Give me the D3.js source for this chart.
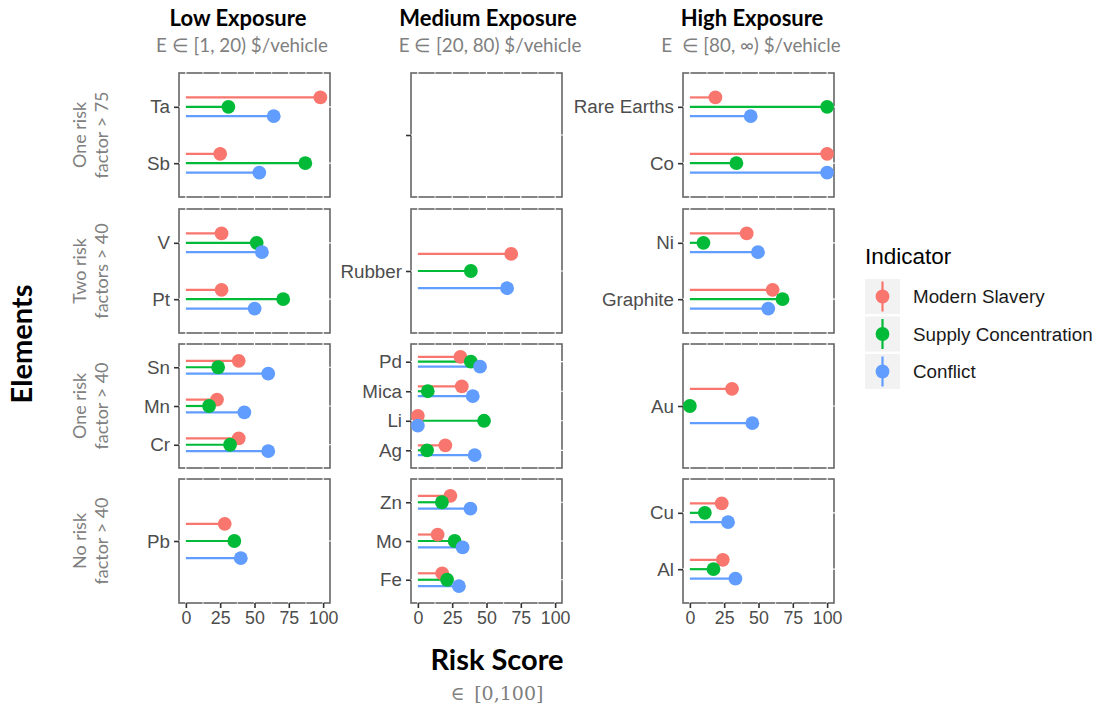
<!DOCTYPE html>
<html>
<head>
<meta charset="utf-8">
<script src="https://cdn.jsdelivr.net/npm/d3@7"></script>
<style>
  html, body { margin: 0; padding: 0; background: #fff; }
  svg { display: block; }
</style>
</head>
<body>
<svg id="chart" width="1098" height="705"></svg>
<script>
// Facet layout: exposure tiers across, risk-count groups down
const exposureTiers = ["Low Exposure", "Medium Exposure", "High Exposure"];
const exposureRanges = ["E \u2208 [1, 20) $/vehicle", "E \u2208 [20, 80) $/vehicle", "E\u2002\u2208 [80, \u221E) $/vehicle"];
const riskGroups = [
  ["One risk", "factor > 75"],
  ["Two risk", "factors > 40"],
  ["One risk", "factor > 40"],
  ["No risk", "factor > 40"]
];

// Elements with their exposure tier (column) and risk group (row)
const elements = ["Ta", "Sb", "V", "Pt", "Sn", "Mn", "Cr", "Pb",
                  "Rubber", "Pd", "Mica", "Li", "Ag", "Zn", "Mo", "Fe",
                  "Rare Earths", "Co", "Ni", "Graphite", "Au", "Cu", "Al"];
const elementTier = [0, 0, 0, 0, 0, 0, 0, 0,
                     1, 1, 1, 1, 1, 1, 1, 1,
                     2, 2, 2, 2, 2, 2, 2];
const elementGroup = [0, 0, 1, 1, 2, 2, 2, 3,
                      1, 2, 2, 2, 2, 3, 3, 3,
                      0, 0, 1, 1, 2, 3, 3];

// Risk scores per indicator, in the same order as `elements`
const indicators = ["Modern Slavery", "Supply Concentration", "Conflict"];
const modernSlavery       = [98, 25, 26, 26, 38.5, 22.7, 38.5, 28.3,
                             68, 31, 32, 0, 20, 23.7, 14.4, 17.7,
                             18.6, 100, 41.4, 60.3, 30.7, 23.2, 24];
const supplyConcentration = [31, 87, 51.6, 70.9, 23.5, 16.9, 32.2, 35.3,
                             38.6, 38.6, 7.2, 48.2, 6.7, 17.5, 26.8, 21.3,
                             100, 33.9, 9.9, 67.5, 0, 10.9, 17.2];
const conflict            = [64, 53.5, 55.4, 50.1, 60, 42.6, 60, 40,
                             65, 45.3, 40, 0, 41.4, 38.3, 32.6, 29.9,
                             44.3, 100, 49.6, 57.1, 45.5, 27.8, 33.2];
const seriesValues = [modernSlavery, supplyConcentration, conflict];
const colors = ["#F8766D", "#00BA38", "#619CFF"];

const xTicks = [0, 25, 50, 75, 100];
const xGrid = [0, 12.5, 25, 37.5, 50, 62.5, 75, 87.5, 100];

// Geometry
const colLeft = [179, 411, 683];
const panelW = 151;
const rowTop = [73, 209, 344, 479];
const panelH = 124;

const svg = d3.select("#chart");
const axisFont = "'Liberation Sans', Arial, Helvetica, sans-serif";
const labelFont = "Lato, 'Open Sans', sans-serif";

const color = d3.scaleOrdinal().domain(indicators).range(colors);

// Column headers
exposureTiers.forEach((t, c) => {
  svg.append("text")
    .attr("x", [238, 488, 752][c]).attr("y", 26)
    .attr("text-anchor", "middle")
    .style("font-family", labelFont)
    .style("font-weight", "bold")
    .style("font-size", "22px")
    .attr("fill", "#000")
    .text(t);
  svg.append("text")
    .attr("x", [242, 490, 751][c]).attr("y", 52)
    .attr("text-anchor", "middle")
    .style("font-family", labelFont)
    .style("font-size", "18.8px")
    .attr("fill", "#7f7f7f")
    .text(exposureRanges[c]);
});

// Row labels (rotated, two lines)
riskGroups.forEach((lines, r) => {
  const cy = rowTop[r] + panelH / 2;
  const g = svg.append("g").attr("transform", `translate(86,${cy}) rotate(-90)`);
  lines.forEach((ln, i) => {
    g.append("text")
      .attr("x", 0).attr("y", i * 22)
      .attr("text-anchor", "middle")
      .style("font-family", labelFont)
      .style("font-size", "18px")
      .attr("fill", "#808080")
      .text(ln);
  });
});

// Panels
for (let r = 0; r < riskGroups.length; r++) {
  for (let c = 0; c < exposureTiers.length; c++) {
    const left = colLeft[c], top = rowTop[r];
    const idx = elements.map((e, i) => i).filter(i => elementTier[i] === c && elementGroup[i] === r);
    const cats = idx.length ? idx.map(i => elements[i]) : [""];

    const x = d3.scaleLinear().domain([-5, 105]).range([left, left + panelW]);
    const y = d3.scalePoint().domain(cats).range([top, top + panelH]).padding(0.6);
    const dodge = y.step() / 6;

    const g = svg.append("g");

    // Border
    g.append("rect")
      .attr("x", left).attr("y", top)
      .attr("width", panelW).attr("height", panelH)
      .attr("fill", "#fff")
      .attr("stroke", "#666")
      .attr("stroke-width", 1.6);

    // White grid lines crossing the frame
    g.selectAll(".vg").data(xGrid).join("line")
      .attr("x1", d => x(d)).attr("x2", d => x(d))
      .attr("y1", top - 2).attr("y2", top + panelH + 2)
      .attr("stroke", "#fff").attr("stroke-width", d => d % 25 === 0 ? 1.2 : 0.8);
    g.selectAll(".hg").data(cats).join("line")
      .attr("x1", left - 2).attr("x2", left + panelW + 2)
      .attr("y1", d => y(d)).attr("y2", d => y(d))
      .attr("stroke", "#fff").attr("stroke-width", 1.2);

    // Y axis
    const yAxis = d3.axisLeft(y).tickSize(5).tickPadding(4);
    const ya = svg.append("g").attr("transform", `translate(${left},0)`).call(yAxis);
    ya.select(".domain").remove();
    ya.selectAll(".tick line").attr("stroke", "#333").attr("stroke-width", 1.6);
    ya.selectAll(".tick text")
      .style("font-family", axisFont).style("font-size", "18.8px").attr("fill", "#4d4d4d");

    // X axis on bottom row
    if (r === riskGroups.length - 1) {
      const xAxis = d3.axisBottom(x).tickValues(xTicks).tickSize(5).tickPadding(3);
      const xa = svg.append("g").attr("transform", `translate(0,${top + panelH})`).call(xAxis);
      xa.select(".domain").remove();
      xa.selectAll(".tick line").attr("stroke", "#333").attr("stroke-width", 1.6);
      xa.selectAll(".tick text")
        .style("font-family", axisFont).style("font-size", "17.8px").attr("fill", "#4d4d4d");
    }

    // Lollipops
    const marks = [];
    idx.forEach(i => {
      indicators.forEach((ind, k) => {
        marks.push({ el: elements[i], ind, k, v: seriesValues[k][i] });
      });
    });
    const yy = d => y(d.el) + (d.k - 1) * dodge;
    g.selectAll(".seg").data(marks).join("line")
      .attr("x1", x(0)).attr("x2", d => x(d.v))
      .attr("y1", yy).attr("y2", yy)
      .attr("stroke", d => color(d.ind))
      .attr("stroke-width", 2.2);
    g.selectAll(".pt").data(marks).join("circle")
      .attr("cx", d => x(d.v)).attr("cy", yy)
      .attr("r", 6.9)
      .attr("fill", d => color(d.ind));
  }
}

// Axis titles
svg.append("text")
  .attr("transform", "translate(32,344) rotate(-90)")
  .attr("text-anchor", "middle")
  .style("font-family", labelFont).style("font-weight", "bold").style("font-size", "29px")
  .attr("fill", "#000")
  .text("Elements");

svg.append("text")
  .attr("x", 497).attr("y", 670)
  .attr("text-anchor", "middle")
  .style("font-family", labelFont).style("font-weight", "bold").style("font-size", "29px")
  .attr("fill", "#000")
  .text("Risk Score");

svg.append("text")
  .attr("x", 497).attr("y", 700)
  .attr("text-anchor", "middle")
  .style("font-family", "'DejaVu Serif', 'Liberation Serif', serif")
  .style("font-size", "19px")
  .attr("fill", "#7f7f7f")
  .text("\u2208\u2002[0,100]");

// Legend
const legend = svg.append("g");
legend.append("text")
  .attr("x", 865).attr("y", 264)
  .style("font-family", axisFont).style("font-size", "22.5px")
  .attr("fill", "#000")
  .text("Indicator");
const keyTop = [279, 316.5, 354];
indicators.forEach((ind, k) => {
  const ky = keyTop[k];
  legend.append("rect")
    .attr("x", 865).attr("y", ky).attr("width", 35).attr("height", 35)
    .attr("fill", "#f2f2f2");
  legend.append("line")
    .attr("x1", 882.5).attr("x2", 882.5)
    .attr("y1", ky + 2.5).attr("y2", ky + 32.5)
    .attr("stroke", color(ind)).attr("stroke-width", 2.2);
  legend.append("circle")
    .attr("cx", 882.5).attr("cy", ky + 17.5).attr("r", 6.9)
    .attr("fill", color(ind));
  legend.append("text")
    .attr("x", 913).attr("y", ky + 17.5).attr("dy", "0.35em")
    .style("font-family", axisFont).style("font-size", "18.8px")
    .attr("fill", "#1a1a1a")
    .text(ind);
});
</script>
</body>
</html>
